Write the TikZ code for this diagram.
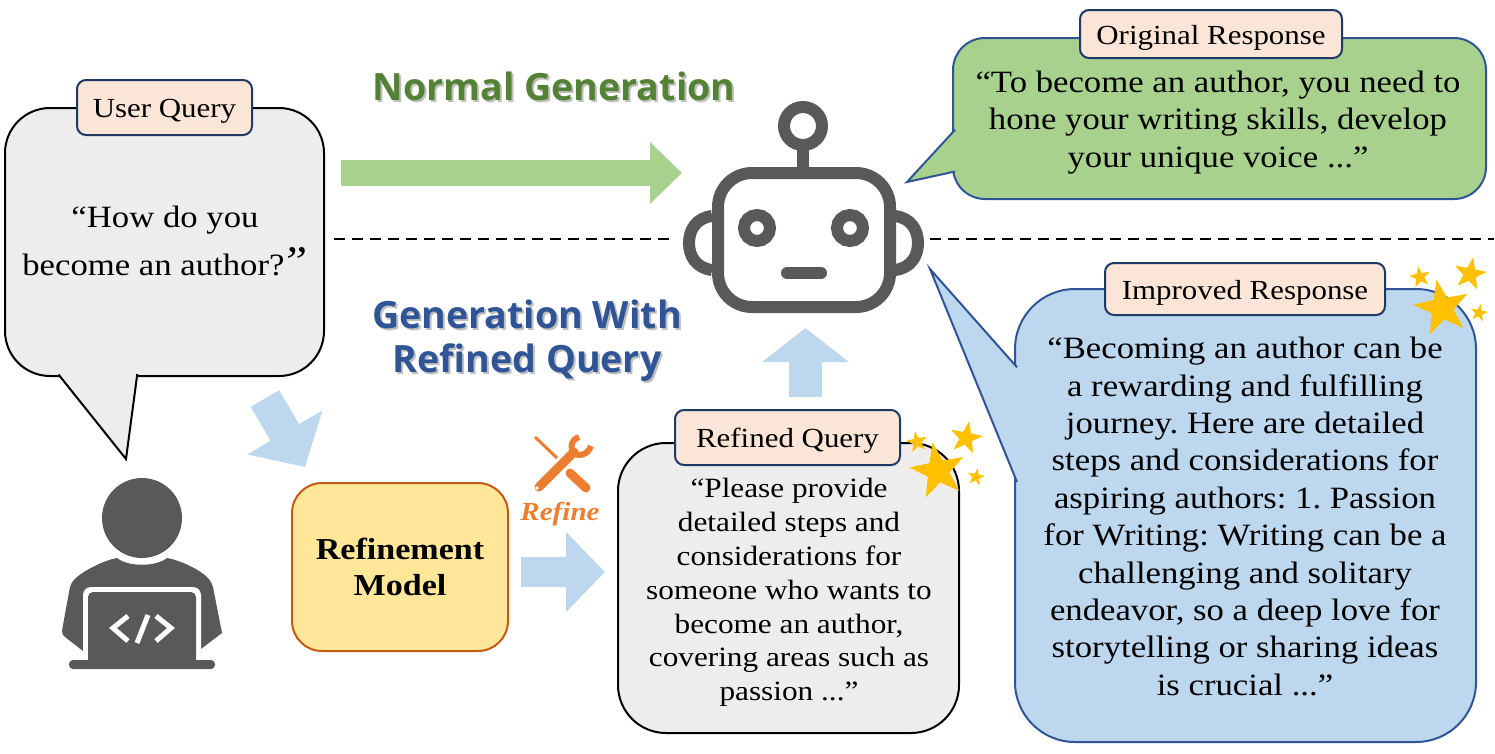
\documentclass[tikz,border=0pt]{standalone}
\usepackage{fontspec}
\setmainfont[FakeStretch=1.12]{Liberation Serif}
\newfontfamily\headfont{Open Sans}
\usetikzlibrary{arrows.meta,shapes.geometric}
\definecolor{tagfill}{HTML}{FBE5D6}
\definecolor{navyline}{HTML}{2F5597}
\definecolor{tagline}{HTML}{203864}
\definecolor{greyfill}{HTML}{EDEDED}
\definecolor{greenfill}{HTML}{A9D18E}
\definecolor{bluefill}{HTML}{BDD7EE}
\definecolor{yellowfill}{HTML}{FFE699}
\definecolor{boxline}{HTML}{C55A11}
\definecolor{titlegreen}{HTML}{548235}
\definecolor{iconcol}{HTML}{595959}
\definecolor{toolcol}{HTML}{ED7D31}
\definecolor{starcol}{HTML}{FFC000}
\frenchspacing
\begin{document}
\begin{tikzpicture}[align=center,x=1pt,y=-1pt]
\tikzstyle{tag}=[draw=tagline,fill=tagfill,line width=2pt,rounded corners=9pt,inner sep=0pt,text height=20pt,text depth=0pt,font=\fontsize{27.6}{32}\selectfont]
\tikzstyle{greybub}=[draw=black,fill=greyfill,line width=2pt]
\tikzstyle{greenbub}=[draw=navyline,fill=greenfill,line width=2pt]
\tikzstyle{bluebub}=[draw=navyline,fill=bluefill,line width=2pt]
\tikzstyle{bigtext}=[font=\fontsize{31}{37.4}\selectfont]
\tikzstyle{smalltext}=[font=\fontsize{27.9}{33.8}\selectfont]
\tikzstyle{greenarrow}=[-{Triangle[length=32pt,width=60pt]},greenfill,line width=26pt]
\tikzstyle{bluearrow}=[-{Triangle[length=39pt,width=78pt]},bluefill,line width=30pt]
\tikzstyle{widearrow}=[-{Triangle[length=40pt,width=85pt]},bluefill,line width=33pt]
\tikzstyle{uparrow}=[-{Triangle[length=34pt,width=85pt]},bluefill,line width=33pt]
\tikzstyle{divider}=[line width=2pt,dash pattern=on 11pt off 7pt]
\tikzstyle{icon}=[draw=iconcol,line width=12pt]
\tikzstyle{titlefont}=[font=\headfont\bfseries\fontsize{37.6}{44}\selectfont]
\tikzstyle{shadowed}=[text=black,opacity=.25]
\tikzstyle{spark}=[star,star points=5,star point ratio=2.5,fill=starcol,inner sep=0pt]

\useasboundingbox (0,0) rectangle (1495,753);

% bubbles
\node[greybub,rounded corners=45pt,minimum width=319pt,minimum height=268pt] (user_b) at (164.5,242) {};
\draw[greybub] (58.5,374.5) -- (126,459) -- (137.3,374);
\node[greenbub,rounded corners=32pt,minimum width=533pt,minimum height=161pt] (orig_b) at (1219.5,118.5) {};
\draw[greenbub] (955,129.8) -- (907,182) -- (955,171.5);
\node[bluebub,rounded corners=60pt,minimum width=461pt,minimum height=453pt] (impr_b) at (1245.5,515.5) {};
\draw[bluebub] (1017,367.3) -- (930,269) -- (1017,482);
\node[greybub,rounded corners=48pt,minimum width=341pt,minimum height=290pt] (ref_b) at (788.5,588) {};

% text inside the bubbles
\node[font=\fontsize{31}{48}\selectfont] (user_q) at (165,241) {“How do you\\become an author?\kern-3pt{\fontsize{42}{48}\selectfont\itshape ”}};
\node[bigtext] (orig_r) at (1218,122.5) {“To become an author, you need to\\hone your writing skills, develop\\your unique voice ...”};
\node[bigtext] (impr_r) at (1245,516.5) {“Becoming an author can be\\a rewarding and fulfilling\\journey. Here are detailed\\steps and considerations for\\aspiring authors: 1. Passion\\for Writing: Writing can be a\\challenging and solitary\\endeavor, so a deep love for\\storytelling or sharing ideas\\is crucial ...”};
\node[smalltext] (ref_q) at (789,592.5) {“Please provide\\detailed steps and\\considerations for\\someone who wants to\\become an author,\\covering areas such as\\passion ...”};

% tags
\node[tag,minimum width=175pt,minimum height=55pt] (t_user) at (164.5,107.5) {User Query};
\node[tag,minimum width=262pt,minimum height=48pt] (t_orig) at (1211,34) {Original Response};
\node[tag,minimum width=280pt,minimum height=52pt] (t_impr) at (1245,289) {Improved Response};
\node[tag,minimum width=225pt,minimum height=55pt] (t_ref) at (787.5,437.5) {Refined Query};

% refinement box
\node[draw=boxline,fill=yellowfill,line width=2pt,rounded corners=30pt,minimum width=216pt,minimum height=168pt,inner sep=0pt,font=\bfseries\fontsize{30.4}{36}\selectfont] (model) at (400,567) {Refinement\\Model};

% titles
\node[titlefont,shadowed] (s_normal) at (556,88) {Normal Generation};
\node[titlefont,text=titlegreen] (normal) at (554,86) {Normal Generation};
\node[titlefont,shadowed] (s_refined) at (529,343) {Generation With\\Refined Query};
\node[titlefont,text=navyline] (refined) at (527,341) {Generation With\\Refined Query};

% divider
\coordinate (d1) at (334,239);
\coordinate (d2) at (672,239);
\coordinate (d3) at (930,239);
\coordinate (d4) at (1494,239);
\path (d1) edge [divider] (d2)
      (d3) edge [divider] (d4);

% block arrows
\coordinate (a1) at (341,173);
\coordinate (a2) at (682,173);
\coordinate (b1) at (265,398.5);
\coordinate (b2) at (305,467);
\coordinate (c1) at (521,572);
\coordinate (c2) at (605,572);
\coordinate (e1) at (805.5,397);
\coordinate (e2) at (805.5,328);
\path (a1) edge [greenarrow] (a2)
      (b1) edge [widearrow] (b2)
      (c1) edge [bluearrow] (c2)
      (e1) edge [uparrow] (e2);

% robot
\draw[icon] (803,126) circle[radius=19pt];
\draw[icon] (803,145) -- (803,173);
\draw[icon,rounded corners=34pt] (718,173) rectangle (890,307);
\draw[icon] (757,228) circle[radius=13pt];
\draw[icon] (850,228) circle[radius=13pt];
\draw[icon,line cap=round] (787,273) -- (821,273);
\draw[icon] (712,216) .. controls (696,218) and (689,230) .. (689,243) .. controls (689,256) and (696,268) .. (712,270);
\draw[icon] (895,216) .. controls (911,218) and (918,230) .. (918,243) .. controls (918,256) and (911,268) .. (895,270);

% person
\fill[iconcol] (142,518) circle[radius=40pt];
\fill[iconcol] (117,558) .. controls (128,567) and (156,567) .. (167,558) .. controls (180,560) and (200,570) .. (207,577) .. controls (211,581) and (213,585) .. (214,592) -- (222,633) -- (201,649) -- (83,651) -- (65,637) .. controls (61,634) and (62,630) .. (63,625) -- (69,592) .. controls (70,585) and (72,581) .. (77,577) .. controls (85,570) and (105,560) .. (117,558) -- cycle;
\fill[white,rounded corners=8pt] (83,587) rectangle (201,660);
\fill[iconcol,rounded corners=5pt] (88,592) rectangle (196,664);
\fill[iconcol,rounded corners=4pt] (69,660) rectangle (215,669);
\draw[white,line width=5pt] (128,616) -- (113,628) -- (128,641);
\draw[white,line width=5pt] (148,615) -- (137,643);
\draw[white,line width=5pt] (156,616) -- (171,628) -- (156,641);

% refine tools
\draw[toolcol,line width=3pt] (535,437) -- (557,458);
\draw[toolcol,line width=9pt,line cap=round] (570,473) -- (586,488);
\draw[toolcol,line width=9pt,line cap=round] (539,487) -- (574,452);
\draw[toolcol,line width=6pt] (579,437) .. controls (570,440) and (570,450) .. (574,453) .. controls (578,457) and (588,455) .. (591,446);
\fill[white] (537,488) circle[radius=1.8pt];
\node[text=toolcol,font=\bfseries\itshape\fontsize{26}{32}\selectfont] (refine) at (560,514) {Refine};

% stars
\node[spark,minimum size=58pt,shape border rotate=11] (s1) at (938,471) {};
\node[spark,minimum size=22pt,shape border rotate=11] (s2) at (917,442) {};
\node[spark,minimum size=34pt,shape border rotate=-11] (s3) at (966,438) {};
\node[spark,minimum size=18pt,shape border rotate=-11] (s4) at (976,477) {};
\node[spark,minimum size=58pt,shape border rotate=11] (s5) at (1442,308) {};
\node[spark,minimum size=22pt,shape border rotate=11] (s6) at (1420,277) {};
\node[spark,minimum size=34pt,shape border rotate=-11] (s7) at (1470,274) {};
\node[spark,minimum size=18pt,shape border rotate=-11] (s8) at (1479,313) {};
\end{tikzpicture}
\end{document}
